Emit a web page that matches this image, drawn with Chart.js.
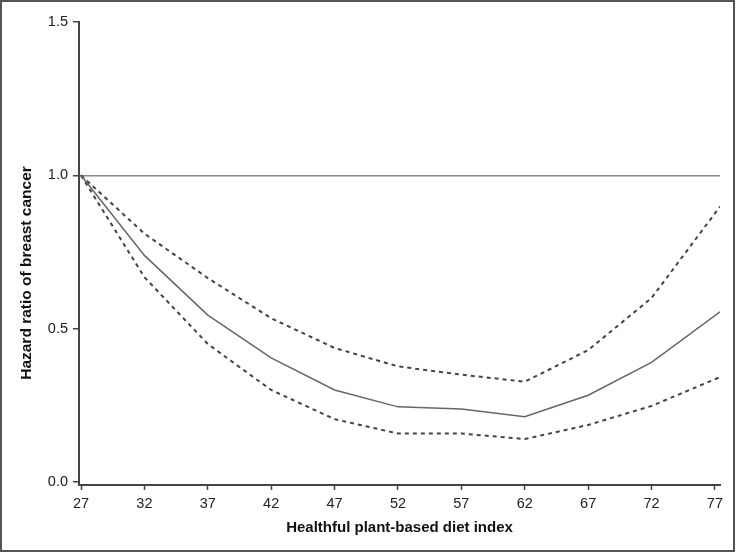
<!DOCTYPE html>
<html>
<head>
<meta charset="utf-8">
<script src="https://cdn.jsdelivr.net/npm/chart.js@4.4.0/dist/chart.umd.min.js"></script>
<style>
  html, body { margin: 0; padding: 0; background: #fff; }
  #wrap { width: 738px; height: 554px; position: relative; }
</style>
</head>
<body>
<div id="wrap"><canvas id="graph" width="738" height="554"></canvas></div>
<script>
// diet index values where the spline was evaluated
var dietIndex = [27, 32, 37, 42, 47, 52, 57, 62, 67, 72, 77.4];
// hazard ratio + 95% CI
var hazard = [1.0, 0.739, 0.544, 0.405, 0.300, 0.245, 0.238, 0.213, 0.283, 0.390, 0.555];
var upperCI = [1.0, 0.810, 0.665, 0.534, 0.437, 0.377, 0.350, 0.327, 0.430, 0.600, 0.898];
var lowerCI = [1.0, 0.668, 0.450, 0.300, 0.205, 0.158, 0.158, 0.140, 0.186, 0.248, 0.342];
var xTicks = [27, 32, 37, 42, 47, 52, 57, 62, 67, 72, 77];
var yTicks = [0, 0.5, 1.0, 1.5];
var yTitle = 'Hazard ratio of breast cancer';

function pts(ys) {
  return dietIndex.map(function(x, i) { return {x: x, y: ys[i]}; });
}

var font = 'Liberation Sans, Arial, sans-serif';

// grey frame round the picture + y title (sits a bit lower than axis centre)
var frame = {
  id: 'frame',
  afterDraw: function(chart) {
    var c = chart.ctx;
    c.save();
    c.strokeStyle = '#555';
    c.lineWidth = 2;
    c.strokeRect(1, 1, 733, 550);
    c.translate(27, 273);
    c.rotate(-Math.PI / 2);
    c.font = 'bold 15.5px ' + font;
    c.fillStyle = '#111';
    c.textAlign = 'center';
    c.textBaseline = 'middle';
    c.fillText(yTitle, 0, 0);
    c.restore();
  }
};

var ctx = document.getElementById('graph');
var myChart = new Chart(ctx, {
  type: 'line',
  plugins: [frame],
  data: {
    datasets: [{
      label: 'HR',
      data: pts(hazard),
      borderColor: '#666',
      borderWidth: 1.5,
      pointRadius: 0,
      tension: 0,
      fill: false
    }, {
      label: 'Upper CI',
      data: pts(upperCI),
      borderColor: '#444',
      borderWidth: 2,
      borderDash: [4, 4],
      pointRadius: 0,
      tension: 0,
      fill: false
    }, {
      label: 'Lower CI',
      data: pts(lowerCI),
      borderColor: '#444',
      borderWidth: 2,
      borderDash: [4, 4],
      pointRadius: 0,
      tension: 0,
      fill: false
    }]
  },
  options: {
    responsive: false,
    animation: false,
    layout: { padding: { left: 0, top: 22, right: 18, bottom: 0 } },
    plugins: {
      legend: { display: false },
      tooltip: { enabled: false }
    },
    scales: {
      x: {
        type: 'linear',
        min: 26.842,
        max: 77.4,
        afterBuildTicks: function(s) { s.ticks = xTicks.map(function(v) { return {value: v}; }); },
        afterFit: function(s) { s.height = 69; },
        border: { color: '#444', width: 2 },
        grid: { drawOnChartArea: false, tickLength: 5, tickColor: '#444', tickWidth: 1.5 },
        ticks: { color: '#222', padding: 5, font: { family: font, size: 14.5 }, maxRotation: 0 },
        title: {
          display: true,
          text: 'Healthful plant-based diet index',
          color: '#111',
          font: { family: font, size: 15, weight: 'bold' },
          padding: { top: 0, bottom: 17 }
        }
      },
      y: {
        min: -0.0098,
        max: 1.5,
        afterBuildTicks: function(s) { s.ticks = yTicks.map(function(v) { return {value: v}; }); },
        afterFit: function(s) { s.width = 79; },
        border: { color: '#444', width: 2 },
        grid: {
          drawOnChartArea: true,
          color: function(c) { return c.tick && c.tick.value === 1 ? '#888' : 'rgba(0,0,0,0)'; },
          lineWidth: 1.5,
          tickLength: 6,
          tickColor: '#444',
          tickWidth: 1.5
        },
        ticks: {
          color: '#222',
          padding: 5,
          font: { family: font, size: 14.5 },
          callback: function(v) { return v.toFixed(1); }
        }
      }
    }
  }
});
</script>
</body>
</html>
